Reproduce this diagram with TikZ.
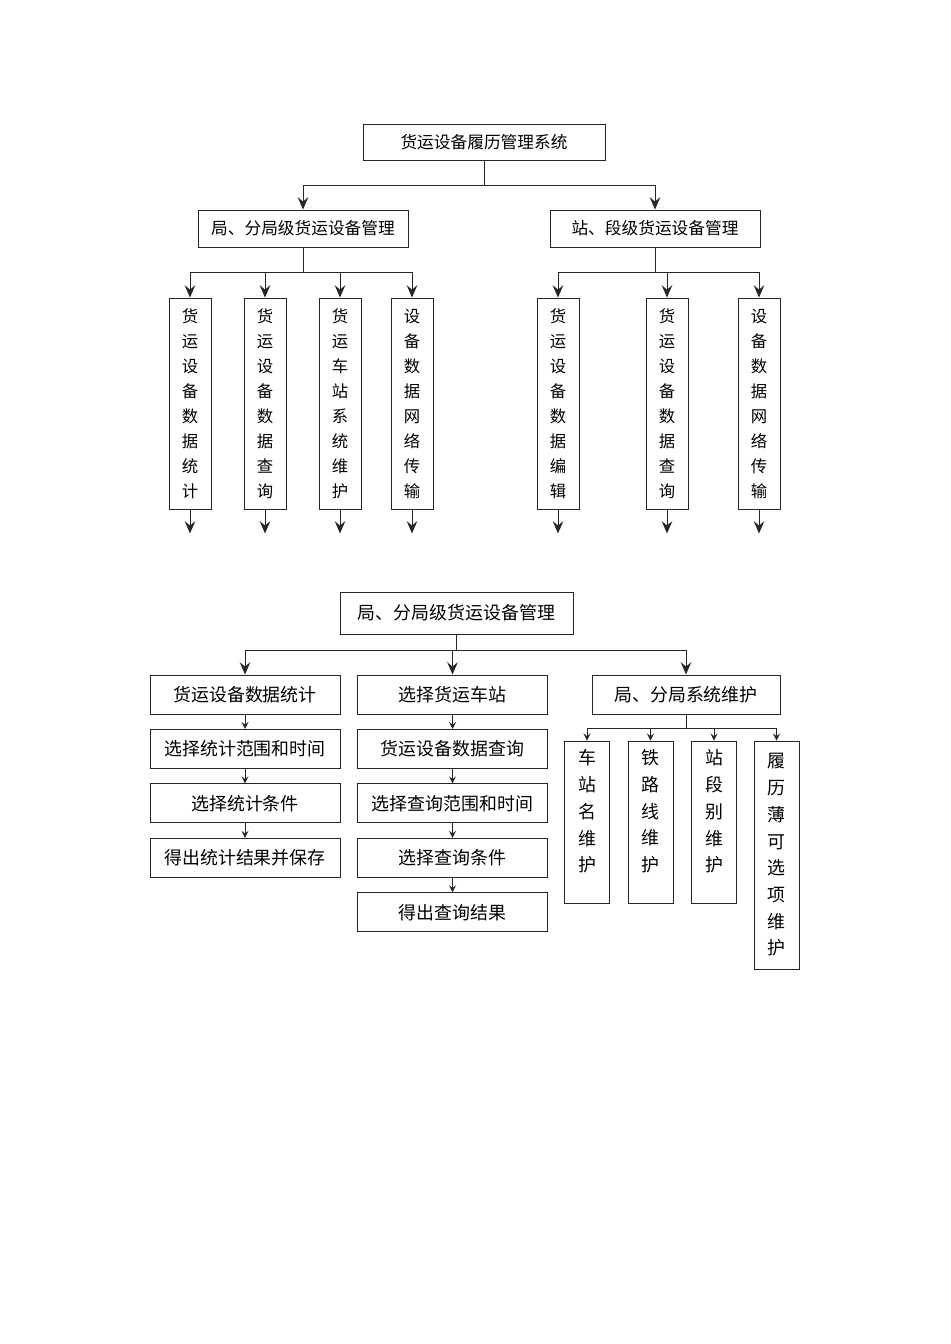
\documentclass[tikz,border=0pt]{standalone}
\usepackage{fontspec}
\setmainfont{Noto Sans CJK SC}
\usetikzlibrary{positioning,arrows.meta}

\begin{document}
\begin{tikzpicture}[x=0.02cm,y=-0.02cm,
        box/.style={draw=black!85,line width=0.55pt,inner sep=0pt,font=\fontsize{9.5}{11}\selectfont},
        vbox/.style={draw=black!85,line width=0.55pt,inner sep=0pt,minimum width=0.84cm,minimum height=4.24cm,align=center,font=\fontsize{9.3}{14.2}\selectfont},
        sbox/.style={draw=black!85,line width=0.55pt,inner sep=0pt,minimum width=3.8cm,minimum height=0.78cm,font=\fontsize{10.2}{12}\selectfont},
        mbox/.style={draw=black!85,line width=0.55pt,inner sep=0pt,minimum width=0.9cm,align=center,font=\fontsize{10.2}{15.2}\selectfont},
        line/.style={draw=black!85,line width=0.55pt},
        arr/.style={draw=black!85,line width=0.55pt,-{Stealth[length=7pt,width=6pt,inset=2.5pt]}},
        sarr/.style={draw=black!85,line width=0.55pt,-{Stealth[length=4pt,width=4pt,inset=1.5pt]}}]
    \useasboundingbox (0,0) rectangle (950,1344);

    % upper tree
    \node[box,minimum width=4.84cm,minimum height=0.72cm] (sys) at (484,142) {货运设备履历管理系统};
    \node[box,minimum width=4.2cm,minimum height=0.74cm] (ju) at (303,228.5) {局、分局级货运设备管理};
    \node[box,minimum width=4.2cm,minimum height=0.74cm] (zd) at (655,228.5) {站、段级货运设备管理};
    \draw[line] (sys.south) -- ++(0,25) coordinate (j0);
    \draw[arr] (j0) -| (ju.north);
    \draw[arr] (j0) -| (zd.north);

    \foreach \n/\x/\t in {a1/190/{货\\运\\设\\备\\数\\据\\统\\计},
                          a2/265/{货\\运\\设\\备\\数\\据\\查\\询},
                          a3/340/{货\\运\\车\\站\\系\\统\\维\\护},
                          a4/412/{设\\备\\数\\据\\网\\络\\传\\输},
                          b1/558/{货\\运\\设\\备\\数\\据\\编\\辑},
                          b2/667/{货\\运\\设\\备\\数\\据\\查\\询},
                          b3/759/{设\\备\\数\\据\\网\\络\\传\\输}}
        \node[vbox] (\n) at (\x,404) {\t};

    \draw[line] (ju.south) -- ++(0,25) coordinate (j1);
    \draw[line] (zd.south) -- ++(0,25) coordinate (j2);
    \foreach \n in {a1,a2,a3,a4} {
        \draw[arr] (j1) -| (\n.north);
        \draw[arr] (\n.south) -- ++(0,23);
    }
    \foreach \n in {b1,b2,b3} {
        \draw[arr] (j2) -| (\n.north);
        \draw[arr] (\n.south) -- ++(0,23);
    }

    % lower tree
    \node[box,minimum width=4.66cm,minimum height=0.84cm,font=\fontsize{10.2}{12}\selectfont] (ju2) at (456.5,613) {局、分局级货运设备管理};

    \node[sbox] (c1) at (245,694.5) {货运设备数据统计};
    \node[sbox,below=0.29cm of c1] (c2) {选择统计范围和时间};
    \node[sbox,below=0.29cm of c2] (c3) {选择统计条件};
    \node[sbox,below=0.29cm of c3] (c4) {得出统计结果并保存};

    \node[sbox] (d1) at (452.5,694.5) {选择货运车站};
    \node[sbox,below=0.29cm of d1] (d2) {货运设备数据查询};
    \node[sbox,below=0.29cm of d2] (d3) {选择查询范围和时间};
    \node[sbox,below=0.29cm of d3] (d4) {选择查询条件};
    \node[sbox,below=0.29cm of d4] (d5) {得出查询结果};

    \node[sbox,minimum width=3.76cm] (e1) at (686,694.5) {局、分局系统维护};
    \node[mbox,minimum height=3.24cm,text depth=0.45cm] (m1) at (587,822) {车\\站\\名\\维\\护};
    \node[mbox,minimum height=3.24cm,text depth=0.45cm] (m2) at (650.5,822) {铁\\路\\线\\维\\护};
    \node[mbox,minimum height=3.24cm,text depth=0.45cm] (m3) at (714,822) {站\\段\\别\\维\\护};
    \node[mbox,minimum height=4.56cm] (m4) at (776.5,855) {履\\历\\薄\\可\\选\\项\\维\\护};

    \draw[line] (ju2.south) -- ++(0,16) coordinate (j3);
    \foreach \n in {c1,d1,e1}
        \draw[arr] (j3) -| (\n.north);
    \foreach \a/\b in {c1/c2,c2/c3,c3/c4,d1/d2,d2/d3,d3/d4,d4/d5}
        \draw[sarr] (\a) -- (\b);

    \draw[line] (e1.south) -- ++(0,14) coordinate (j4);
    \foreach \n in {m1,m2,m3,m4}
        \draw[sarr] (j4) -| (\n.north);
\end{tikzpicture}
\end{document}
